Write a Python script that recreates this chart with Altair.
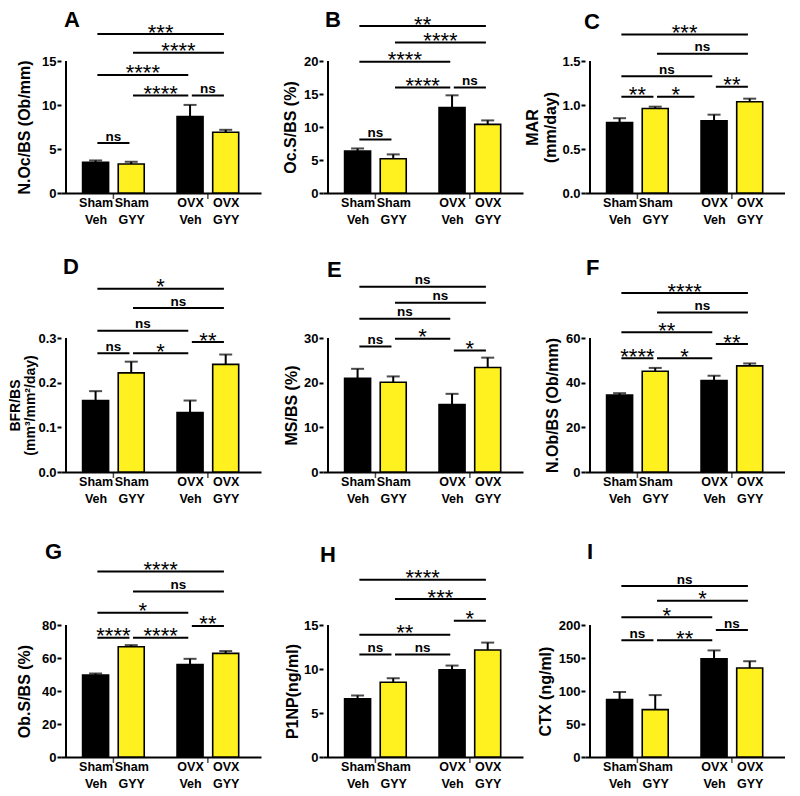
import altair as alt
import pandas as pd

FONT = "Liberation Sans"
YELLOW = "#FFF01F"

# ---- shared categories ----
labels_top = ["Sham", "Sham", "OVX", "OVX"]
labels_bottom = ["Veh", "GYY", "Veh", "GYY"]
positions = [1.0, 2.0, 3.65, 4.65]
bar_colors = ["#000000", YELLOW, "#000000", YELLOW]
group_ticks = [1.5, 4.15]
P = positions
X_DOMAIN = [0.17, 5.50]

letters = ["A", "B", "C", "D", "E", "F", "G", "H", "I"]
y_titles = [
    "N.Oc/BS (Ob/mm)", "Oc.S/BS (%)", ["MAR", "(mm/day)"],
    ["BFR/BS", "(mm³/mm²/day)"], "MS/BS (%)", "N.Ob/BS (Ob/mm)",
    "Ob.S/BS (%)", "P1NP(ng/ml)", "CTX (ng/ml)",
]
y_title_size = [16, 16, 16, 14, 16, 16, 16, 16, 16]
y_title_line = [17, 17, 18, 15.5, 17, 17, 17, 17, 17]
y_title_pad = [9, 5, 3, 0, 4, 5, 9, 3, 5]
y_ticks = [
    [0, 5, 10, 15], [0, 5, 10, 15, 20], [0, 0.5, 1.0, 1.5],
    [0, 0.1, 0.2, 0.3], [0, 10, 20, 30], [0, 20, 40, 60],
    [0, 20, 40, 60, 80], [0, 5, 10, 15], [0, 50, 100, 150, 200],
]
y_formats = ["d", "d", ".1f", ".1f", "d", "d", "d", "d", "d"]

means = [
    [3.48, 3.29, 8.69, 6.91],
    [6.35, 5.20, 12.95, 10.40],
    [0.80, 0.961, 0.82, 1.037],
    [0.160, 0.222, 0.133, 0.241],
    [21.0, 20.1, 15.1, 23.4],
    [34.5, 45.1, 41.0, 47.5],
    [49.6, 66.8, 56.1, 62.8],
    [6.61, 8.50, 9.90, 12.16],
    [87.2, 71.8, 148.7, 134.9],
]
sems = [
    [0.22, 0.26, 1.32, 0.27],
    [0.40, 0.65, 1.85, 0.60],
    [0.05, 0.02, 0.07, 0.035],
    [0.021, 0.025, 0.027, 0.022],
    [2.1, 1.3, 2.4, 2.2],
    [0.8, 1.5, 2.1, 1.1],
    [1.0, 1.0, 3.4, 1.4],
    [0.38, 0.45, 0.49, 0.84],
    [11.3, 22.0, 12.8, 10.2],
]

# significance brackets: (x start, x end, y level, label)
brackets = [
    [(P[0], P[1], 5.67, "ns"), (P[1], P[2], 11.07, "****"), (P[2], P[3], 11.07, "ns"),
     (P[0], P[2], 13.41, "****"), (P[1], P[3], 15.94, "****"), (P[0], P[3], 18.06, "***")],
    [(P[0], P[1], 8.1, "ns"), (P[1], P[2], 16.0, "****"), (P[2], P[3], 16.0, "ns"),
     (P[0], P[2], 19.9, "****"), (P[1], P[3], 22.8, "****"), (P[0], P[3], 25.3, "**")],
    [(P[0], P[1], 1.093, "**"), (P[1], 3.15, 1.093, "*"), (P[0], P[2], 1.327, "ns"),
     (P[2], P[3], 1.206, "**"), (P[1], P[3], 1.583, "ns"), (P[0], P[3], 1.80, "***")],
    [(P[0], P[1], 0.266, "ns"), (P[1], P[2], 0.266, "*"), (P[2], P[3], 0.291, "**"),
     (P[0], P[2], 0.316, "ns"), (P[1], P[3], 0.367, "ns"), (P[0], P[3], 0.410, "*")],
    [(P[0], P[1], 28.1, "ns"), (P[1], P[2], 29.85, "*"), (P[2], P[3], 27.2, "*"),
     (P[0], P[2], 34.3, "ns"), (P[1], P[3], 37.9, "ns"), (P[0], P[3], 41.5, "ns")],
    [(P[0], P[1], 50.9, "****"), (P[1], P[2], 50.9, "*"), (P[2], P[3], 57.3, "**"),
     (P[0], P[2], 62.6, "**"), (P[1], P[3], 71.4, "ns"), (P[0], P[3], 80.1, "****")],
    [(P[0], P[1], 72.3, "****"), (P[1], P[2], 72.3, "****"), (P[2], P[3], 79.4, "**"),
     (P[0], P[2], 87.5, "*"), (P[1], P[3], 100.3, "ns"), (P[0], P[3], 112.4, "****")],
    [(P[0], P[1], 11.64, "ns"), (P[1], P[2], 11.64, "ns"), (P[2], P[3], 15.49, "*"),
     (P[0], P[2], 13.9, "**"), (P[1], P[3], 17.95, "***"), (P[0], P[3], 20.14, "****")],
    [(P[0], P[1], 176.9, "ns"), (P[1], P[2], 176.9, "**"), (P[2], P[3], 192.3, "ns"),
     (P[0], P[2], 211.8, "*"), (P[1], P[3], 236.9, "*"), (P[0], P[3], 259.0, "ns")],
]

# panel letter placement (px from plot-area left / top)
letter_dx = [3, 2, -1, 2, 4, 1, -16, -3, 2]
letter_dy = [2, 2, 4, -2, 1, -1, 4, 7, 4]

row_heights = [185, 213, 219]
row_axis_px = [132, 134, 132]
PANEL_W = 200
INSET = 0.05

label_expr = " : ".join(
    f"datum.value == {p} ? ['{a}','{b}']" for p, a, b in zip(positions[:-1], labels_top[:-1], labels_bottom[:-1])
) + f" : ['{labels_top[-1]}','{labels_bottom[-1]}']"


def make_panel(i):
    row = i // 3
    H = row_heights[row]
    ticks = y_ticks[i]
    ymax = ticks[-1]
    top = ymax * H / row_axis_px[row]
    xs = alt.Scale(domain=X_DOMAIN, nice=False, zero=False)
    ys = alt.Scale(domain=[0, top], nice=False, zero=False)

    bars_df = pd.DataFrame({
        "x": positions, "mean": means[i],
        "top": [m + s for m, s in zip(means[i], sems[i])],
        "fill": bar_colors,
    })
    bars = alt.Chart(bars_df).mark_bar(
        size=26, stroke="black", strokeWidth=1.6, orient="vertical"
    ).encode(
        x=alt.X("x:Q", scale=xs, axis=alt.Axis(
            values=positions, labelExpr=label_expr, ticks=False, domain=True,
            domainWidth=2, domainColor="black", labelFont=FONT, labelFontSize=12.5,
            labelFontWeight="bold", labelColor="black", labelLineHeight=17,
            labelPadding=3, labelOverlap=False, labelFlush=False, labelBound=False,
            labelBaseline="top", title=None, grid=False)),
        y=alt.Y("mean:Q", scale=ys, stack=None, axis=alt.Axis(
            values=ticks, format=y_formats[i], domain=False, ticks=True, tickSize=4,
            tickWidth=2, tickColor="black", labelFont=FONT, labelFontSize=13,
            labelFontWeight="bold", labelColor="black", labelPadding=1,
            title=y_titles[i], titleFont=FONT, titleFontSize=y_title_size[i],
            titleFontWeight="bold", titleColor="black", titlePadding=y_title_pad[i],
            titleLineHeight=y_title_line[i], titleY=H - row_axis_px[row] / 2,
            grid=False)),
        fill=alt.Fill("fill:N", scale=None),
    )
    err = alt.Chart(bars_df).mark_rule(strokeWidth=2, color="black").encode(
        x=alt.X("x:Q", scale=xs),
        y=alt.Y("mean:Q", scale=ys),
        y2="top:Q",
    )
    caps = alt.Chart(bars_df).mark_tick(
        orient="horizontal", size=13, thickness=2, color="black"
    ).encode(
        x=alt.X("x:Q", scale=xs),
        y=alt.Y("top:Q", scale=ys),
    )
    yline_df = pd.DataFrame({"x": [X_DOMAIN[0]], "y0": [0], "y1": [ymax]})
    yline = alt.Chart(yline_df).mark_rule(strokeWidth=2, color="black").encode(
        x=alt.X("x:Q", scale=xs),
        y=alt.Y("y0:Q", scale=ys),
        y2="y1:Q",
    )
    gt_df = pd.DataFrame({"x": group_ticks, "y": [0] * len(group_ticks)})
    gticks = alt.Chart(gt_df).mark_tick(
        orient="vertical", size=5, thickness=1.5, color="black", yOffset=3.5
    ).encode(
        x=alt.X("x:Q", scale=xs),
        y=alt.Y("y:Q", scale=ys),
    )
    br = brackets[i]
    br_df = pd.DataFrame({
        "x1": [b[0] + INSET for b in br], "x2": [b[1] - INSET for b in br],
        "xm": [(b[0] + b[1]) / 2 for b in br], "y": [b[2] for b in br],
        "label": [b[3] for b in br],
        "star": [b[3].startswith("*") for b in br],
    })
    br_lines = alt.Chart(br_df).mark_rule(strokeWidth=2, color="black").encode(
        x=alt.X("x1:Q", scale=xs), x2="x2:Q",
        y=alt.Y("y:Q", scale=ys),
    )
    star_txt = alt.Chart(br_df[br_df["star"]]).mark_text(
        font=FONT, fontSize=22, fontWeight="normal", color="black",
        baseline="alphabetic", dy=5.5,
    ).encode(
        x=alt.X("xm:Q", scale=xs),
        y=alt.Y("y:Q", scale=ys),
        text="label:N",
    )
    ns_txt = alt.Chart(br_df[~br_df["star"]]).mark_text(
        font=FONT, fontSize=13.5, fontWeight="bold", color="black",
        baseline="alphabetic", dy=-2.5,
    ).encode(
        x=alt.X("xm:Q", scale=xs),
        y=alt.Y("y:Q", scale=ys),
        text="label:N",
    )
    return alt.layer(bars, err, caps, yline, gticks, br_lines, star_txt, ns_txt).properties(
        width=PANEL_W, height=H,
        title=alt.TitleParams(
            text=letters[i], anchor="start", frame="group", font=FONT,
            fontSize=22, fontWeight="bold", color="black", baseline="top",
            offset=-(22 + letter_dy[i]), dx=letter_dx[i],
        ),
    )


panels = [make_panel(i) for i in range(9)]
chart = alt.concat(
    *panels, columns=3, spacing={"row": 66, "column": 62}, bounds="flush"
).properties(padding=0).configure_view(stroke=None)

chart.save("out.html", embed_options={"renderer": "svg", "actions": False})
